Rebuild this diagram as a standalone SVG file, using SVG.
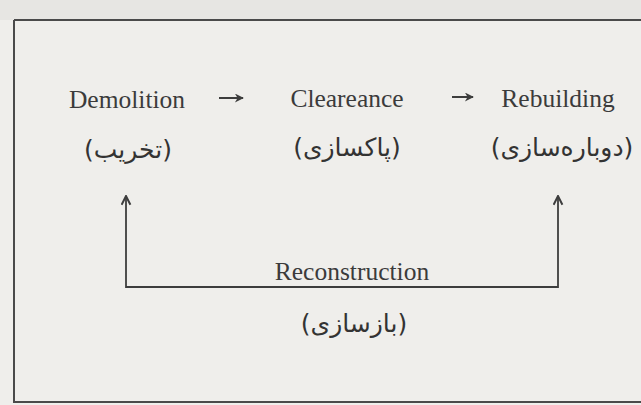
<svg xmlns="http://www.w3.org/2000/svg" width="641" height="405" viewBox="0 0 641 405">
<defs>
<style>
.en{font-family:"Liberation Serif","Times New Roman",serif;font-size:25.5px;fill:#3b3b3b;text-anchor:middle}
.fa{font-family:"DejaVu Sans",sans-serif;font-size:25px;fill:#333;text-anchor:middle}
.ln{stroke:#3d3d3d;fill:none}
</style>
<marker id="ah" viewBox="0 0 10 10" refX="9" refY="5" markerWidth="10" markerHeight="9" orient="auto" markerUnits="userSpaceOnUse">
<path d="M0,0 L10,5 L0,10 L3,5 Z" fill="#3d3d3d"/>
</marker>
<marker id="up" viewBox="0 0 10 10" refX="9" refY="5" markerWidth="11" markerHeight="11" orient="auto" markerUnits="userSpaceOnUse">
<path d="M1,1 L9,5 L1,9" fill="none" stroke="#3d3d3d" stroke-width="1.8"/>
</marker>
</defs>
<rect width="641" height="405" fill="#efeeeb"/>
<rect x="0" y="0" width="641" height="20" fill="#e7e6e3"/>
<path d="M14,20 H641 M14,20 V402 H641" stroke="#4a4a4a" stroke-width="2" fill="none"/>
<g id="demolition">
<text class="en" x="127" y="108">Demolition</text>
<text class="fa" x="128" y="158" direction="rtl">(تخریب)</text>
</g>
<g id="clearance">
<text class="en" x="347" y="107">Cleareance</text>
<text class="fa" x="347" y="156" direction="rtl">(پاکسازی)</text>
</g>
<g id="rebuilding">
<text class="en" x="558" y="107">Rebuilding</text>
<text class="fa" x="562" y="156" direction="rtl">(دوباره‌سازی)</text>
</g>
<g id="reconstruction">
<text class="en" x="352" y="280">Reconstruction</text>
<text class="fa" x="354" y="332" direction="rtl">(بازسازی)</text>
</g>
<g id="connectors">
<line class="ln" x1="219" y1="98" x2="243" y2="98" stroke-width="2" marker-end="url(#ah)"/>
<line class="ln" x1="452" y1="97" x2="473" y2="97" stroke-width="2" marker-end="url(#ah)"/>
<polyline class="ln" points="126,287 558,287" stroke-width="1.8"/>
<line class="ln" x1="126" y1="288" x2="126" y2="196" stroke-width="1.8" marker-end="url(#up)"/>
<line class="ln" x1="558" y1="288" x2="558" y2="196" stroke-width="1.8" marker-end="url(#up)"/>
</g>
</svg>
